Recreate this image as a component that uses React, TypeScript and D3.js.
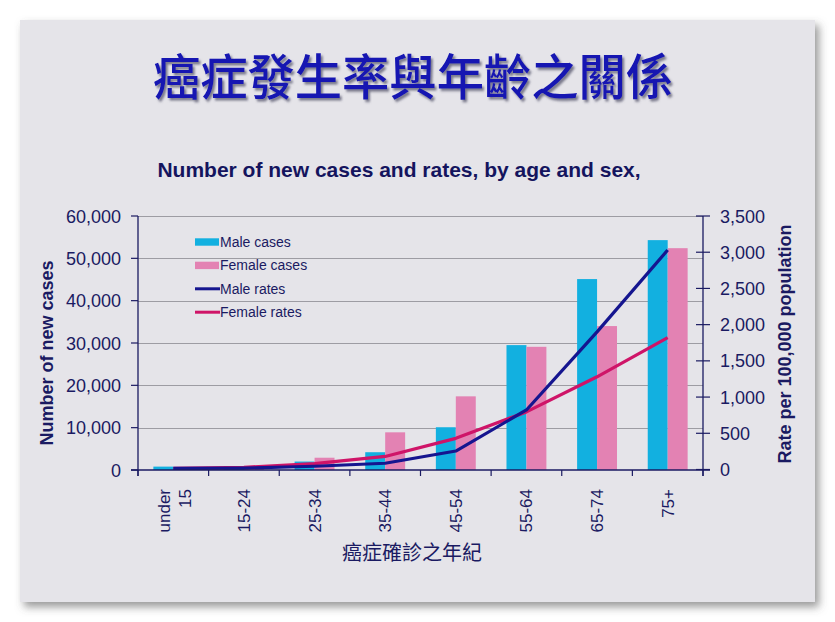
import React from "react";
import * as d3 from "d3";

const categories = ["under 15", "15-24", "25-34", "35-44", "45-54", "55-64", "65-74", "75+"];
const maleCases = [800, 600, 2000, 4200, 10100, 29500, 45100, 54300];
const femaleCases = [600, 900, 2900, 8900, 17400, 29100, 34000, 52400];
const maleRates = [15, 20, 45, 86, 255, 822, 1900, 3030];
const femaleRates = [15, 30, 80, 180, 430, 795, 1280, 1820];
const leftTicks = [0, 10000, 20000, 30000, 40000, 50000, 60000];
const rightTicks = [0, 500, 1000, 1500, 2000, 2500, 3000, 3500];
const seriesKeys = ["male", "female"];
const legendItems = [
  { label: "Male cases", type: "bar", color: "#12b0e0" },
  { label: "Female cases", type: "bar", color: "#e382b3" },
  { label: "Male rates", type: "line", color: "#15158f" },
  { label: "Female rates", type: "line", color: "#cf1468" },
];

const NAVY = "#1a1a62";
const LAT = "'Liberation Sans', Arial, sans-serif";
const CJK = "'Noto Sans CJK TC', 'Noto Sans CJK SC', sans-serif";

export default function App() {
  const left = 138, right = 703, top = 216, bottom = 470;
  const x = d3.scaleBand().domain(categories).range([left, right]).padding(0);
  const xs = d3.scaleBand().domain(seriesKeys).range([0, x.bandwidth()]).paddingInner(0).paddingOuter(0.77);
  const yL = d3.scaleLinear().domain([0, 60000]).range([bottom, top]);
  const yR = d3.scaleLinear().domain([0, 3500]).range([bottom - 0.5, top]);
  const fmt = d3.format(",");
  const line = d3
    .line<number>()
    .x((_, i) => (x(categories[i]) as number) + x.bandwidth() / 2)
    .y((d) => yR(d));
  const bounds = [...categories.map((c) => x(c) as number), right];

  return (
    <svg width={835} height={622} style={{ position: "absolute", left: 0, top: 0 }}>
      <defs>
        <filter id="sh" x="-5%" y="-5%" width="112%" height="114%">
          <feDropShadow dx="4" dy="5" stdDeviation="4" floodColor="#555" floodOpacity="0.6" />
        </filter>
        <filter id="tsh" x="-5%" y="-20%" width="110%" height="150%">
          <feDropShadow dx="2" dy="2.5" stdDeviation="1" floodColor="#55556a" floodOpacity="0.75" />
        </filter>
      </defs>
      <rect x={0} y={0} width={835} height={622} fill="#ffffff" />
      <rect x={20} y={20} width={795} height={582} fill="#e5e4e9" filter="url(#sh)" />

      {/* Title */}
      <text x={413} y={95} textAnchor="middle" fontFamily={CJK} fontSize={49} fontWeight={500}
        fill="#1212b2" textLength={520} lengthAdjust="spacingAndGlyphs" filter="url(#tsh)">
        癌症發生率與年齡之關係
      </text>

      {/* Subtitle */}
      <text x={399} y={177} textAnchor="middle" fontFamily={LAT} fontSize={21} fontWeight="bold" fill="#14145e">
        Number of new cases and rates, by age and sex,
      </text>

      {/* Gridlines */}
      {leftTicks.filter((t) => t > 0).map((t) => (
        <line key={t} x1={left} x2={right} y1={Math.round(yL(t)) + 0.5} y2={Math.round(yL(t)) + 0.5} stroke="#9d9ca3" strokeWidth={1} />
      ))}

      {/* Bars */}
      {categories.map((c, i) => (
        <g key={c}>
          <rect x={(x(c) as number) + (xs("male") as number)} y={yL(maleCases[i])} width={xs.bandwidth()}
            height={bottom - yL(maleCases[i])} fill="#12b0e0" />
          <rect x={(x(c) as number) + (xs("female") as number)} y={yL(femaleCases[i])} width={xs.bandwidth()}
            height={bottom - yL(femaleCases[i])} fill="#e382b3" />
        </g>
      ))}

      {/* Lines */}
      <path d={line(femaleRates) as string} fill="none" stroke="#cf1468" strokeWidth={3.2} strokeLinejoin="round" />
      <path d={line(maleRates) as string} fill="none" stroke="#15158f" strokeWidth={3.2} strokeLinejoin="round" />

      {/* Axes */}
      <line x1={left} x2={left} y1={top} y2={bottom + 6} stroke={NAVY} strokeWidth={1.3} />
      <line x1={right} x2={right} y1={top} y2={bottom + 6} stroke={NAVY} strokeWidth={1.3} />
      <line x1={left - 7} x2={right + 7} y1={bottom} y2={bottom} stroke={NAVY} strokeWidth={1.3} />
      {leftTicks.map((t) => (
        <g key={t}>
          <line x1={left - 7} x2={left} y1={yL(t)} y2={yL(t)} stroke={NAVY} strokeWidth={1.2} />
          <text x={121} y={yL(t) + 6.5} textAnchor="end" fontFamily={LAT} fontSize={18} fill={NAVY}>
            {fmt(t)}
          </text>
        </g>
      ))}
      {rightTicks.map((t) => (
        <g key={t}>
          <line x1={right - 7} x2={right + 7} y1={yR(t)} y2={yR(t)} stroke={NAVY} strokeWidth={1.2} />
          <text x={720} y={yR(t) + 6.5} textAnchor="start" fontFamily={LAT} fontSize={18} fill={NAVY}>
            {fmt(t)}
          </text>
        </g>
      ))}
      {bounds.map((b, i) => (
        <line key={i} x1={b} x2={b} y1={bottom} y2={bottom + 6} stroke={NAVY} strokeWidth={1.2} />
      ))}

      {/* X tick labels */}
      {categories.map((c) => {
        const cx = (x(c) as number) + x.bandwidth() / 2;
        const parts = c.split(" ");
        if (parts.length === 2) {
          return (
            <g key={c}>
              <text transform={`translate(${cx - 3.5},489) rotate(-90)`} textAnchor="end" fontFamily={LAT} fontSize={17} fill={NAVY}>
                {parts[0]}
              </text>
              <text transform={`translate(${cx + 17.5},489) rotate(-90)`} textAnchor="end" fontFamily={LAT} fontSize={17} fill={NAVY}>
                {parts[1]}
              </text>
            </g>
          );
        }
        return (
          <text key={c} transform={`translate(${cx + 6},489) rotate(-90)`} textAnchor="end" fontFamily={LAT} fontSize={17} fill={NAVY}>
            {c}
          </text>
        );
      })}

      {/* Axis titles */}
      <text x={412} y={560} textAnchor="middle" fontFamily={CJK} fontSize={20} fill={NAVY}>
        癌症確診之年紀
      </text>
      <text transform="translate(53,353) rotate(-90)" textAnchor="middle" fontFamily={LAT} fontSize={18} fontWeight="bold" fill={NAVY}>
        Number of new cases
      </text>
      <text transform="translate(790.5,344) rotate(-90)" textAnchor="middle" fontFamily={LAT} fontSize={18} fontWeight="bold" fill={NAVY}>
        Rate per 100,000 population
      </text>

      {/* Legend */}
      {legendItems.map((it, i) => {
        const cy = 242 + i * 23.4;
        return (
          <g key={it.label}>
            {it.type === "bar" ? (
              <rect x={195} y={cy - 3.7} width={24} height={7.4} fill={it.color} />
            ) : (
              <line x1={195} x2={220} y1={cy} y2={cy} stroke={it.color} strokeWidth={3} />
            )}
            <text x={220} y={cy + 5} fontFamily={LAT} fontSize={14} fill={NAVY}>
              {it.label}
            </text>
          </g>
        );
      })}
    </svg>
  );
}
